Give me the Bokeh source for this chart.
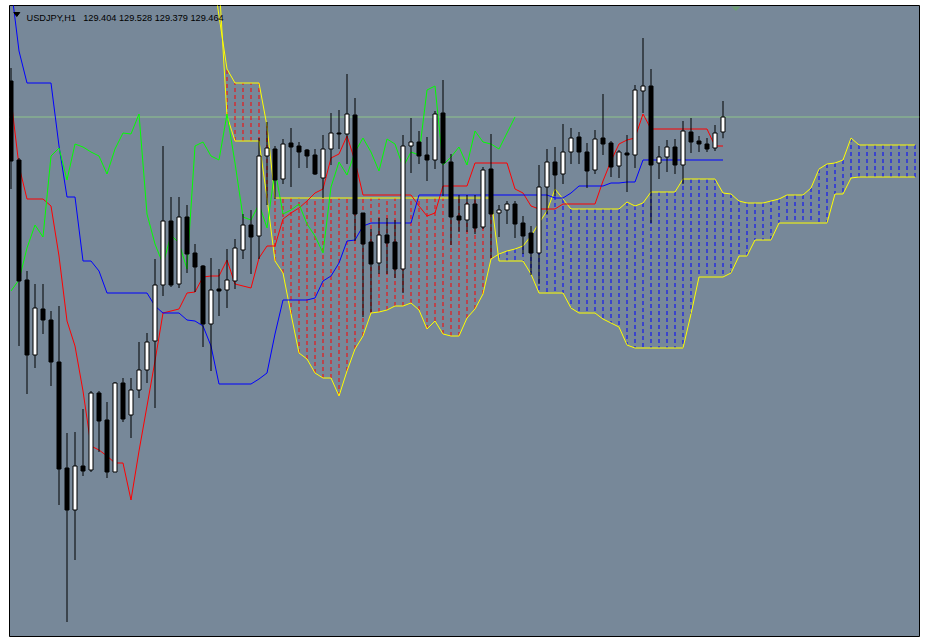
from bokeh.plotting import figure
from bokeh.models import Range1d, ColumnDataSource, Span, Label
from bokeh.embed import file_html
from bokeh.resources import INLINE

# ---------------- data ----------------
symbol = "USDJPY,H1"
quote_text = "129.404 129.528 129.379 129.464"

opens = [129.608, 129.292, 128.812, 128.512, 128.696, 128.652, 128.484, 128.060, 127.892, 128.068,
         128.052, 128.360, 128.252, 128.044, 128.400, 128.272, 128.372, 128.452, 128.568, 128.792,
         129.048, 128.796, 129.064, 128.920, 128.868, 128.636, 128.776, 128.772, 128.808, 128.932,
         129.032, 128.988, 129.308, 129.336, 129.216, 129.360, 129.348, 129.332, 129.312, 129.220,
         129.336, 129.400, 129.396, 129.472, 129.080, 128.964, 128.880, 128.992, 128.964, 128.856,
         129.348, 129.364, 129.312, 129.292, 129.480, 129.284, 129.068, 129.052, 129.116, 129.024,
         129.256, 129.080, 129.092, 129.116, 129.040, 129.000, 128.920, 129.184, 129.284, 129.236,
         129.324, 129.384, 129.324, 129.252, 129.380, 129.360, 129.268, 129.320, 129.312, 129.568,
         129.588, 129.280, 129.304, 129.344, 129.272, 129.404, 129.368, 129.356, 129.340, 129.404]
highs = [129.660, 129.300, 128.848, 128.796, 128.796, 128.688, 128.708, 128.200, 128.204, 128.296,
         128.368, 128.368, 128.324, 128.404, 128.420, 128.420, 128.564, 128.600, 128.896, 129.348,
         129.144, 129.144, 129.112, 128.956, 128.872, 128.900, 128.856, 128.936, 128.976, 129.076,
         129.092, 129.380, 129.444, 129.348, 129.376, 129.420, 129.364, 129.336, 129.336, 129.392,
         129.480, 129.492, 129.636, 129.540, 129.080, 129.016, 129.060, 129.060, 129.052, 129.392,
         129.460, 129.408, 129.384, 129.488, 129.612, 129.316, 129.152, 129.152, 129.152, 129.264,
         129.396, 129.112, 129.128, 129.128, 129.068, 129.028, 129.272, 129.336, 129.344, 129.436,
         129.420, 129.404, 129.360, 129.412, 129.556, 129.368, 129.332, 129.392, 129.592, 129.780,
         129.656, 129.348, 129.372, 129.376, 129.448, 129.460, 129.388, 129.380, 129.432, 129.528]
lows = [129.176, 128.548, 128.356, 128.460, 128.596, 128.388, 127.912, 127.444, 127.692, 128.028,
        128.044, 128.124, 128.020, 128.044, 128.244, 128.180, 128.340, 128.400, 128.300, 128.748,
        128.784, 128.780, 128.840, 128.764, 128.544, 128.448, 128.668, 128.700, 128.776, 128.896,
        128.836, 128.896, 129.112, 129.136, 129.196, 129.184, 129.260, 129.260, 129.232, 129.140,
        129.272, 129.336, 129.276, 128.968, 128.664, 128.684, 128.836, 128.836, 128.820, 128.760,
        129.240, 129.276, 129.208, 129.256, 129.148, 128.952, 129.004, 129.004, 128.996, 129.016,
        128.900, 128.984, 129.036, 128.980, 128.916, 128.832, 128.796, 129.076, 129.148, 129.196,
        129.276, 129.276, 129.180, 129.236, 129.312, 129.224, 129.220, 129.164, 129.260, 129.480,
        129.040, 129.216, 129.244, 129.236, 129.196, 129.320, 129.324, 129.324, 129.328, 129.379]
closes = [129.288, 128.808, 128.512, 128.700, 128.652, 128.484, 128.056, 127.892, 128.068, 128.048,
          128.360, 128.248, 128.044, 128.400, 128.256, 128.372, 128.452, 128.564, 128.792, 129.048,
          128.792, 129.064, 128.916, 128.864, 128.636, 128.772, 128.768, 128.812, 128.940, 129.032,
          128.984, 129.308, 129.340, 129.212, 129.356, 129.344, 129.324, 129.308, 129.236, 129.336,
          129.400, 129.396, 129.476, 129.076, 128.956, 128.876, 128.992, 128.960, 128.856, 129.348,
          129.364, 129.308, 129.292, 129.476, 129.280, 129.064, 129.052, 129.116, 129.020, 129.252,
          129.076, 129.092, 129.116, 129.036, 128.988, 128.920, 129.184, 129.284, 129.232, 129.324,
          129.380, 129.324, 129.248, 129.376, 129.356, 129.264, 129.324, 129.312, 129.572, 129.588,
          129.272, 129.304, 129.344, 129.272, 129.408, 129.364, 129.356, 129.336, 129.400, 129.464]

# Tenkan-sen (red)
tenkan = [129.536, 129.268, 129.136, 129.136, 129.136, 129.108, 128.908, 128.648, 128.548, 128.368,
          128.148, 128.132, 128.108, 128.080, 128.080, 127.932, 128.128, 128.308, 128.488, 128.680,
          128.688, 128.696, 128.760, 128.764, 128.824, 128.828, 128.828, 128.892, 128.796, 128.788,
          128.780, 128.900, 128.948, 128.948, 129.056, 129.080, 129.100, 129.128, 129.160, 129.176,
          129.300, 129.316, 129.388, 129.288, 129.152, 129.152, 129.152, 129.152, 129.152, 129.152,
          129.152, 129.108, 129.068, 129.080, 129.188, 129.188, 129.188, 129.188, 129.280, 129.280,
          129.280, 129.280, 129.280, 129.176, 129.160, 129.108, 129.096, 129.096, 129.096, 129.116,
          129.116, 129.116, 129.116, 129.116, 129.208, 129.288, 129.356, 129.372, 129.380, 129.476,
          129.416, 129.416, 129.416, 129.416, 129.416, 129.416, 129.416, 129.416, 129.348, 129.348]

# Kijun-sen (blue)
kijun = [129.988, 129.728, 129.600, 129.600, 129.600, 129.600, 129.348, 129.144, 129.144, 128.888,
         128.888, 128.848, 128.760, 128.760, 128.760, 128.760, 128.760, 128.760, 128.708, 128.680,
         128.680, 128.680, 128.652, 128.648, 128.628, 128.548, 128.396, 128.396, 128.396, 128.396,
         128.396, 128.416, 128.440, 128.596, 128.732, 128.732, 128.732, 128.732, 128.740, 128.808,
         128.828, 128.880, 128.968, 128.972, 129.028, 129.040, 129.040, 129.040, 129.040, 129.040,
         129.040, 129.152, 129.152, 129.152, 129.152, 129.152, 129.152, 129.152, 129.152, 129.152,
         129.152, 129.152, 129.152, 129.152, 129.152, 129.152, 129.152, 129.152, 129.140, 129.140,
         129.160, 129.188, 129.188, 129.188, 129.188, 129.200, 129.200, 129.204, 129.204, 129.292,
         129.292, 129.292, 129.292, 129.292, 129.292, 129.292, 129.292, 129.292, 129.292, 129.292]

# Senkou spans (already shifted forward), first value belongs to bar 25
cloud_start = 25
span_a = [130.168, 130.008, 129.468, 129.368, 129.368, 129.368, 129.368, 129.140, 128.888, 128.840,
          128.676, 128.520, 128.496, 128.440, 128.420, 128.420, 128.348, 128.448, 128.536, 128.588,
          128.680, 128.684, 128.692, 128.708, 128.708, 128.720, 128.692, 128.616, 128.648, 128.596,
          128.588, 128.588, 128.660, 128.696, 128.756, 128.896, 128.916, 128.928, 128.936, 128.948,
          128.988, 129.040, 129.088, 129.176, 129.136, 129.096, 129.096, 129.096, 129.096, 129.096,
          129.096, 129.096, 129.124, 129.108, 129.120, 129.164, 129.164, 129.164, 129.164, 129.216,
          129.216, 129.216, 129.216, 129.216, 129.160, 129.156, 129.128, 129.120, 129.120, 129.120,
          129.128, 129.136, 129.152, 129.152, 129.152, 129.180, 129.256, 129.276, 129.280, 129.292,
          129.380, 129.352, 129.352, 129.352, 129.352, 129.352, 129.352, 129.352, 129.352]
span_b = [130.088, 129.868, 129.656, 129.600, 129.600, 129.600, 129.600, 129.428, 129.140, 129.140,
          129.140, 129.140, 129.140, 129.140, 129.140, 129.140, 129.140, 129.140, 129.140, 129.140,
          129.140, 129.140, 129.140, 129.140, 129.140, 129.140, 129.140, 129.140, 129.140, 129.140,
          129.140, 129.140, 129.140, 129.140, 129.140, 129.140, 128.888, 128.888, 128.888, 128.888,
          128.836, 128.760, 128.760, 128.760, 128.760, 128.700, 128.680, 128.680, 128.680, 128.656,
          128.640, 128.624, 128.552, 128.540, 128.540, 128.540, 128.540, 128.540, 128.540, 128.540,
          128.676, 128.824, 128.824, 128.824, 128.824, 128.840, 128.908, 128.908, 128.972, 128.972,
          128.972, 129.040, 129.040, 129.040, 129.040, 129.040, 129.040, 129.040, 129.156, 129.156,
          129.220, 129.224, 129.224, 129.224, 129.224, 129.224, 129.224, 129.224, 129.224]
hatch_from = 27  # first bar whose cloud hatch is inside the window

chikou_shift = 26

# ---------------- derived ----------------
n = len(closes)
bars = list(range(n))
chikou = closes[chikou_shift:]
chikou_x = bars[:len(chikou)]
cloud_x = list(range(cloud_start, cloud_start + len(span_a)))
bid = closes[-1]

BG = "#778899"
p = figure(width=928, height=641,
           x_range=Range1d(-0.1875, 113.5625), y_range=Range1d(127.386, 129.910),
           x_axis_type=None, y_axis_type=None,
           toolbar_location=None, output_backend="svg",
           background_fill_color=BG, border_fill_color="white",
           min_border_left=9, min_border_right=9, min_border_top=5, min_border_bottom=5,
           outline_line_color="black", outline_line_width=1)
p.title.visible = False
p.xgrid.visible = False
p.ygrid.visible = False

# bid line
p.add_layout(Span(location=bid, dimension="width", line_color="#8fc48a", line_width=1, level="underlay"))

# cloud hatch
hx, ha, hb, hc = [], [], [], []
for j, a, b in zip(cloud_x, span_a, span_b):
    if j < hatch_from:
        continue
    hx.append(j)
    ha.append(a)
    hb.append(b)
    hc.append("#ff0000" if b > a else "#0000ff")
hsrc = ColumnDataSource(dict(x=hx, a=ha, b=hb, hatch_color=hc))
p.segment(x0="x", y0="a", x1="x", y1="b", source=hsrc, line_color="hatch_color",
          line_width=1, line_dash="4 3")

# indicator lines
p.line(cloud_x, span_a, line_color="#ffff00", line_width=1)
p.line(cloud_x, span_b, line_color="#ffff00", line_width=1)
p.line(bars, tenkan, line_color="#ff0000", line_width=1)
p.line(bars, kijun, line_color="#0000ff", line_width=1)
p.line(chikou_x, chikou, line_color="#00ff00", line_width=1)

# candles (chart in foreground)
src = ColumnDataSource(dict(
    x=bars, o=opens, h=highs, l=lows, c=closes,
    top=[max(o, c) for o, c in zip(opens, closes)],
    bottom=[min(o, c) for o, c in zip(opens, closes)],
    fill=["white" if c > o else "black" for o, c in zip(opens, closes)],
))
p.segment(x0="x", y0="l", x1="x", y1="h", source=src, line_color="black", line_width=1)
p.vbar(x="x", width=0.5, top="top", bottom="bottom", source=src,
       fill_color="fill", line_color="black", line_width=1)

# header texts and markers
p.patch(x=[0.35, 1.1, 0.725], y=[129.882, 129.882, 129.866], fill_color="black", line_color="black")
p.patch(x=[90.03, 91.19, 90.61], y=[129.906, 129.906, 129.888], fill_color="#6e9e74", line_color=None)
p.add_layout(Label(x=1.94, y=129.862, text=symbol, text_font="Liberation Sans",
                   text_font_size="9.2px", text_color="black", text_baseline="alphabetic"))
p.add_layout(Label(x=9.025, y=129.862, text=quote_text, text_font="Liberation Sans",
                   text_font_size="9.2px", text_color="black", text_baseline="alphabetic"))

open("out.html", "w").write(file_html(p, INLINE))
